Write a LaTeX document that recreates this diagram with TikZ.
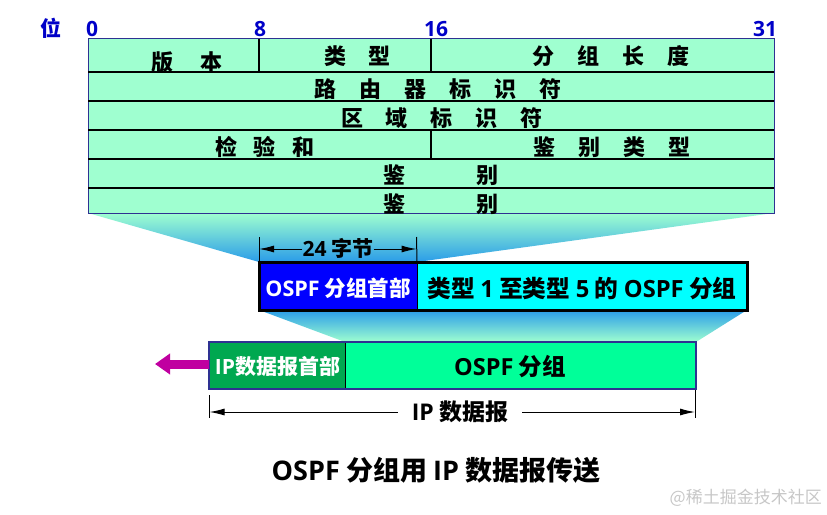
\documentclass[tikz,border=0pt]{standalone}
\usepackage{fontspec}
\setmainfont{Noto Sans CJK SC}
\newfontfamily\latfont{Open Sans}
\usetikzlibrary{arrows.meta, backgrounds, positioning}
\definecolor{rowgreen}{HTML}{9FFFD0}
\definecolor{funnelblue}{HTML}{2A9CE8}
\definecolor{framenavy}{HTML}{2E3192}
\definecolor{bitblue}{HTML}{0000C8}
\definecolor{pktcyan}{HTML}{00FFFF}
\definecolor{hdrblue}{HTML}{0000FF}
\definecolor{iphead}{HTML}{00A850}
\definecolor{ipbody}{HTML}{00FF99}
\definecolor{leftarrow}{HTML}{C000A0}
\tikzstyle{row}=[rectangle, anchor=north west, fill=rowgreen, minimum width=686pt, inner sep=0pt, outer sep=0pt]
\tikzstyle{field}=[font=\fontsize{22pt}{22pt}\selectfont\bfseries, inner sep=0pt]
\tikzstyle{bit}=[font=\fontsize{21pt}{21pt}\selectfont\bfseries, text=bitblue, inner sep=0pt]
\tikzstyle{cell}=[rectangle, anchor=north west, inner sep=0pt, outer sep=0pt]
\tikzstyle{lbl}=[inner sep=0pt, font=\fontsize{21.5pt}{22pt}\selectfont\bfseries]
\tikzstyle{rule}=[black, line width=2pt]
\tikzstyle{dim}=[black, line width=1pt]
\newcommand{\lat}[1]{{\latfont #1}}
\newcommand{\gapped}[1]{\hspace{#1pt}}
\begin{document}
\begin{tikzpicture}[x=1pt, y=-1pt, >={Latex[length=15pt,width=7pt]}]
          \useasboundingbox (0,0) rectangle (827,514);
          % table rows
          \node[row, minimum height=33pt] (r1) at (88,38.5) {};
          \node[row, minimum height=29.5pt] (r2) at (88,71.5) {};
          \node[row, minimum height=29pt] (r3) at (88,101) {};
          \node[row, minimum height=29pt] (r4) at (88,130) {};
          \node[row, minimum height=29pt] (r5) at (88,159) {};
          \node[row, minimum height=25pt] (r6) at (88,188) {};
          \draw[framenavy, line width=0.8pt] (r1.north west) rectangle (r6.south east);
          \foreach \r in {r1, r2, r3, r4, r5}
            \draw[rule] (\r.south west) -- (\r.south east);
          \coordinate (c8) at (259,38.5);
          \coordinate (c16) at (431,38.5);
          \draw[rule] (c8) -- (c8 |- r1.south);
          \draw[rule] (c16) -- (c16 |- r1.south);
          \draw[rule] (c16 |- r4.north) -- (c16 |- r4.south);
          % bit numbers
          \node[bit] (bw) at (51,28) {位};
          \node[bit] (b0) at (92,29) {\lat{0}};
          \node[bit] (b8) at (260,29) {\lat{8}};
          \node[bit] (b16) at (436,29) {\lat{16}};
          \node[bit] (b31) at (765,29) {\lat{31}};
          % field names
          \node[field] (f1) at (187,62) {版\gapped{27}本};
          \node[field] (f2) at (357.5,56) {类\gapped{23}型};
          \node[field] (f3) at (611,56) {分\gapped{23}组\gapped{23}长\gapped{23}度};
          \node[field] (f4) at (438,89) {路\gapped{23}由\gapped{23}器\gapped{23}标\gapped{23}识\gapped{23}符};
          \node[field] (f5) at (442,118) {区\gapped{23}域\gapped{23}标\gapped{23}识\gapped{23}符};
          \node[field] (f6) at (265,147) {检\gapped{17}验\gapped{17}和};
          \node[field] (f7) at (612,147) {鉴\gapped{23}别\gapped{23}类\gapped{23}型};
          \node[field] (f8) at (441,175) {鉴\gapped{71}别};
          \node[field] (f9) at (441,204) {鉴\gapped{71}别};
          % OSPF packet
          \node[cell, fill=hdrblue, minimum width=158pt, minimum height=48pt] (hdr) at (259,262) {};
          \node[cell, fill=pktcyan, minimum width=330pt, minimum height=48pt] (pkt) at (417,262) {};
          \draw[line width=1pt] (hdr.north east) -- (hdr.south east);
          \draw[line width=3pt] (hdr.north west) rectangle (pkt.south east);
          \node[lbl, text=white] (hdrt) at (338,288) {\lat{OSPF} 分组首部};
          \node[lbl, font=\fontsize{23.7pt}{24pt}\selectfont\bfseries] (pktt) at (582,288) {类型 \lat{1} 至类型 \lat{5} 的 \lat{OSPF} 分组};
          % IP datagram
          \node[cell, fill=iphead, minimum width=136pt, minimum height=47pt] (iph) at (209,342) {};
          \node[cell, fill=ipbody, minimum width=351pt, minimum height=47pt] (ipb) at (345,342) {};
          \draw[black, line width=0.8pt] (iph.north east) -- (iph.south east);
          \draw[framenavy, line width=2.5pt] (iph.north west) rectangle (ipb.south east);
          \node[lbl, text=white, font=\fontsize{21pt}{21pt}\selectfont\bfseries] (ipht) at (277.5,366) {\lat{IP}数据报首部};
          \node[lbl, font=\fontsize{23.5pt}{24pt}\selectfont\bfseries] (ipbt) at (510,367) {\lat{OSPF} 分组};
          \coordinate (out) at (155,364);
          \draw[leftarrow, line width=9pt, -{Triangle[length=15pt,width=20pt]}] (iph.west |- out) -- (out);
          % funnels
          \begin{scope}[on background layer]
            \shade[top color=rowgreen, bottom color=funnelblue] (r6.south west) -- (r6.south east) -- (hdr.north east) -- (hdr.north west) -- cycle;
            \shade[top color=funnelblue, bottom color=rowgreen] (hdr.south west) -- (pkt.south east) -- (ipb.north east) -- (ipb.north west) -- cycle;
          \end{scope}
          % dimension lines
          \node[lbl, font=\fontsize{21pt}{21pt}\selectfont\bfseries] (d24) at (338,248) {\lat{24} 字节};
          \coordinate (d24a) at (259,249);
          \coordinate (d24b) at (416.5,249);
          \draw[dim] (259,237) -- (hdr.north west);
          \draw[dim] (416.5,237) -- (hdr.north east);
          \draw[dim, ->] (d24.west |- d24a) -- (d24a);
          \draw[dim, ->] (d24.east |- d24b) -- (d24b);
          \node[lbl, font=\fontsize{23pt}{23pt}\selectfont\bfseries] (dip) at (460,412) {\lat{IP} 数据报};
          \coordinate (dipa) at (209.5,412);
          \coordinate (dipb) at (695,412);
          \draw[dim] (209.5,395) -- (209.5,418);
          \draw[dim] (695,390) -- (695,418);
          \draw[dim, ->] ([xshift=-14pt]dip.west |- dipa) -- (dipa);
          \draw[dim, ->] ([xshift=14pt]dip.east |- dipb) -- (dipb);
          % caption
          \node[lbl, font=\fontsize{27pt}{27pt}\selectfont\bfseries] (cap) at (436,470) {\lat{OSPF} 分组用 \lat{IP} 数据报传送};
          \node[anchor=east, inner sep=0pt, text=black!22, font=\fontsize{17pt}{17pt}\selectfont] (mark) at (822,498) {@稀土掘金技术社区};
        \end{tikzpicture}
\end{document}
